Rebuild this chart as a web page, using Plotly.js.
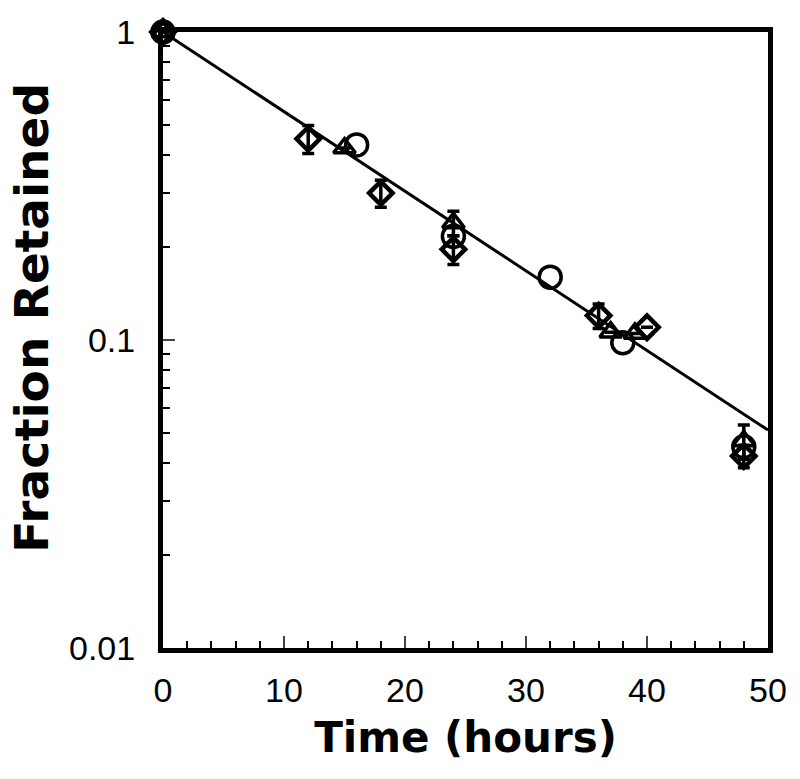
<!DOCTYPE html>
<html>
<head>
<meta charset="utf-8">
<script src="https://cdn.plot.ly/plotly-3.0.1.min.js"></script>
<style>body{margin:0;background:#fff;} #graph{width:800px;height:779px;}</style>
</head>
<body>
<div id="graph"></div>
<script>
// 読み取った値 (時間 h, 残存率)
const circleT = [0, 16, 24, 32, 38, 48];
const circleY = [1.0, 0.43, 0.217, 0.16, 0.098, 0.045];

const triT = [0, 15, 24, 37, 39, 48];
const triY = [1.0, 0.42, 0.24, 0.106, 0.105, 0.047];
const triErr = [0, 0, 0.022, 0, 0, 0.006];

const diaT = [0, 12, 18, 24, 36, 40, 48];
const diaY = [1.0, 0.45, 0.30, 0.197, 0.12, 0.11, 0.042];
const diaErr = [0, 0.047, 0.03, 0.021, 0.011, 0, 0.0035];

// 回帰直線
const fitT = [0, 50];
const fitY = [1.0, 0.051];

const xTicks = [0, 10, 20, 30, 40, 50];
const yTicks = [0.01, 0.1, 1];
const yTickText = ["0.01", "0.1", "1"];

const errStyle = (arr) => ({
  type: "data", array: arr, arrayminus: arr, visible: true,
  color: "black", thickness: 3.5, width: 6
});

const data = [
  {
    x: fitT, y: fitY, mode: "lines", type: "scatter",
    line: { color: "black", width: 3 }, hoverinfo: "skip"
  },
  {
    x: diaT, y: diaY, mode: "markers", type: "scatter", cliponaxis: false,
    error_y: errStyle(diaErr),
    marker: { symbol: "diamond-open", size: 18, color: "black", line: { width: 4.5, color: "black" } }
  },
  {
    x: triT, y: triY, mode: "markers", type: "scatter", cliponaxis: false,
    error_y: errStyle(triErr),
    marker: { symbol: "triangle-up-open", size: 19, color: "black", line: { width: 3.5, color: "black" } }
  },
  {
    x: circleT, y: circleY, mode: "markers", type: "scatter", cliponaxis: false,
    marker: { symbol: "circle-open", size: 22, color: "black", line: { width: 3.5, color: "black" } }
  }
];

const layout = {
  width: 800, height: 779,
  margin: { l: 163, r: 32, t: 32, b: 131 },
  paper_bgcolor: "white", plot_bgcolor: "white",
  showlegend: false,
  font: { family: "Liberation Sans, Arial, sans-serif", color: "black" },
  xaxis: {
    range: [0, 50], tickvals: xTicks, ticks: "inside", ticklen: 12, tickwidth: 2,
    minor: { dtick: 2, ticks: "inside", ticklen: 7, tickwidth: 2, tickcolor: "black" },
    showline: true, linewidth: 5, linecolor: "black", mirror: true,
    showgrid: false, zeroline: false,
    ticklabelstandoff: 8,
    tickfont: { size: 34 },
    title: { text: "<b>Time (hours)</b>", font: { size: 42, family: "DejaVu Sans, sans-serif" }, standoff: 16 }
  },
  yaxis: {
    type: "log", range: [-2, 0], tickvals: yTicks, ticktext: yTickText,
    ticks: "inside", ticklen: 12, tickwidth: 2,
    minor: { dtick: "D1", ticks: "inside", ticklen: 7, tickwidth: 2, tickcolor: "black" },
    showline: true, linewidth: 5, linecolor: "black", mirror: true,
    showgrid: false, zeroline: false,
    ticklabelstandoff: 16,
    tickfont: { size: 34 }
  },
  // 縦軸タイトルは少し上寄りなので注釈で配置
  annotations: [{
    text: "<b>Fraction Retained</b>", xref: "paper", yref: "paper",
    x: -0.2165, y: 0.536, xanchor: "center", yanchor: "middle",
    textangle: -90, showarrow: false,
    font: { size: 47, family: "DejaVu Sans, sans-serif", color: "black" }
  }]
};

Plotly.newPlot("graph", data, layout, { displayModeBar: false, staticPlot: true });
</script>
</body>
</html>
